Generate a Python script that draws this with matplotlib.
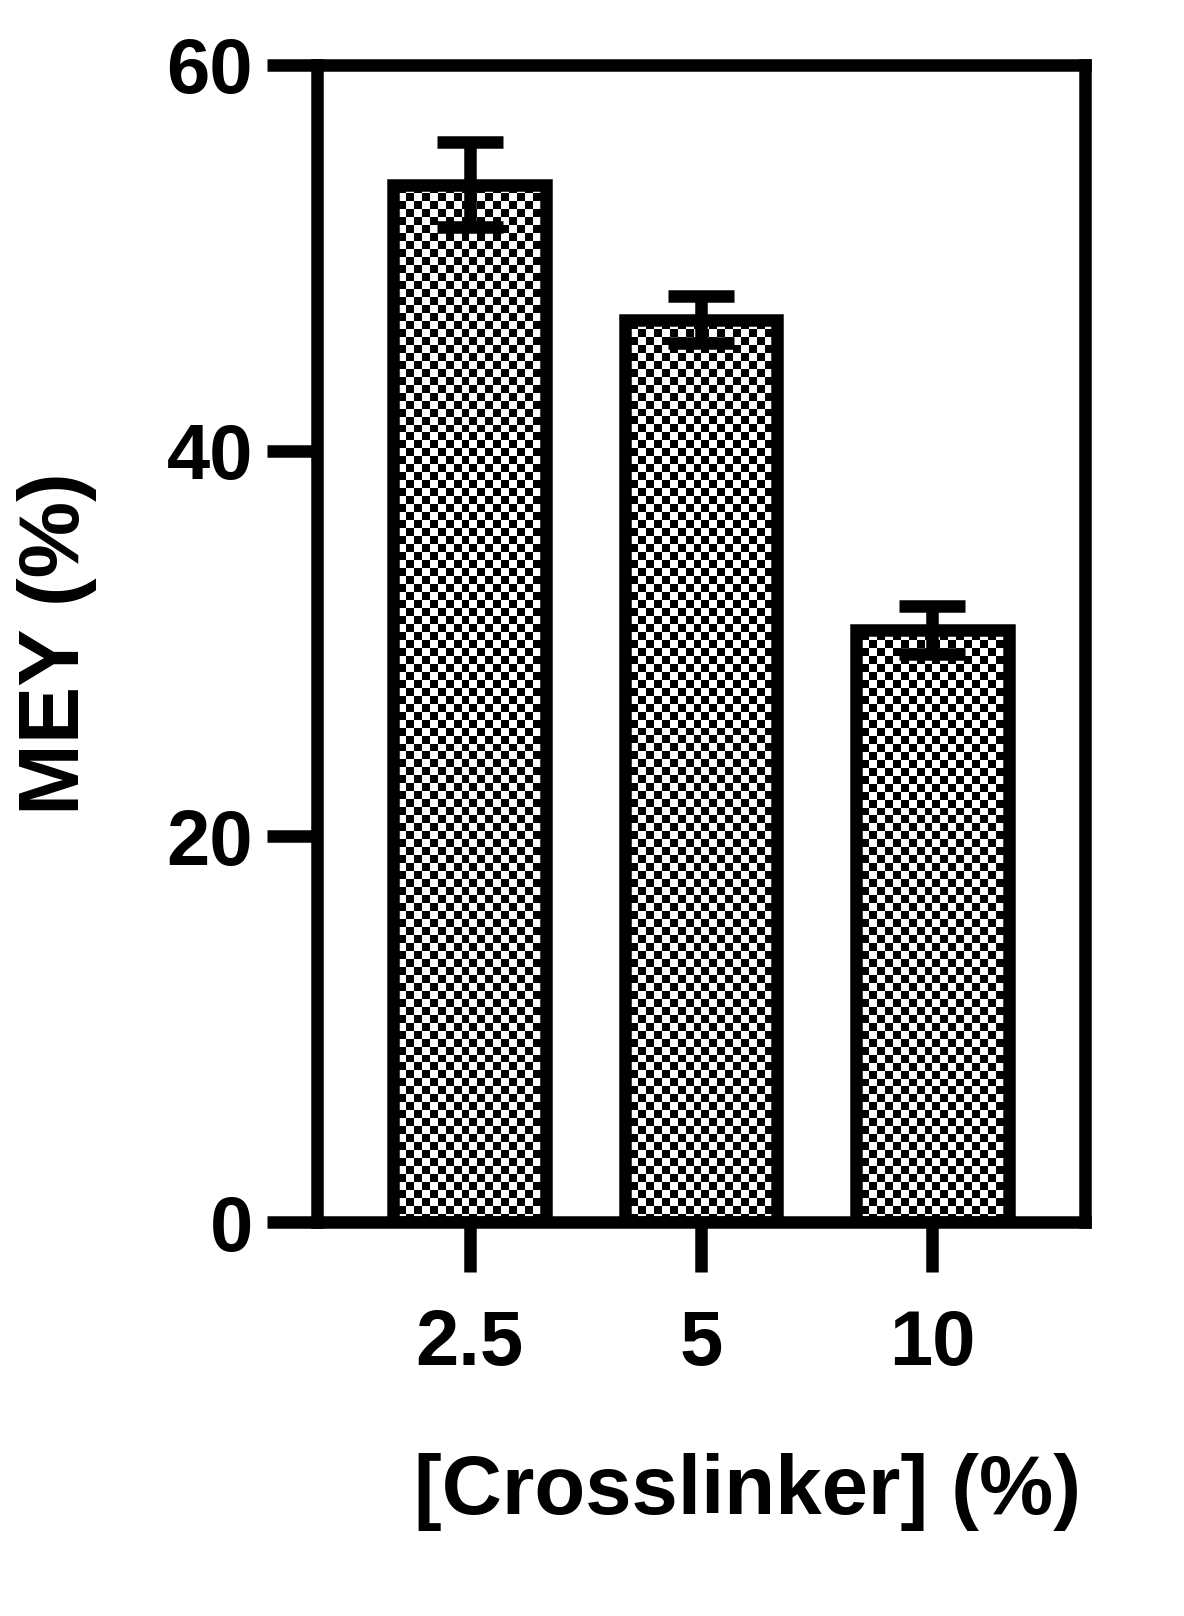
import numpy as np
import matplotlib
matplotlib.use('Agg')
import matplotlib.pyplot as plt

categories = ['2.5', '5', '10']
mey = [53.8, 46.8, 30.7]
err = [2.2, 1.2, 1.25]

plt.rcParams['font.family'] = ['Liberation Sans', 'DejaVu Sans']
plt.rcParams['font.weight'] = 'bold'

fig = plt.figure(figsize=(11.84, 16.16), dpi=100)
ax = fig.add_axes([317/1184, 1-1222/1616, 768/1184, (1222-65)/1616])
lw = 9
x = np.arange(len(categories))
w = 0.66

# checkerboard fill, cells about 8 px
checker = (np.add.outer(np.arange(150), np.arange(116)) % 2).astype(float)
for xi, v in zip(x, mey):
    bar = ax.bar(xi, v, width=w, facecolor='none', edgecolor='black', linewidth=lw, zorder=3)[0]
    im = ax.imshow(checker, cmap='gray', extent=[-1, 3, 0, 62], interpolation='nearest',
                   aspect='auto', zorder=2)
    im.set_clip_path(bar)
ax.errorbar(x, mey, yerr=err, fmt='none', ecolor='black', elinewidth=lw, capsize=24,
            capthick=lw, zorder=4)

ax.set_xlim(-0.66, 2.66)
ax.set_ylim(0, 60)
ax.set_yticks([0, 20, 40, 60])
ax.set_xticks(x)
ax.set_xticklabels(categories)
for s in ax.spines.values():
    s.set_linewidth(lw)
ax.tick_params(axis='both', width=lw, length=36, labelsize=56, pad=10)
ax.tick_params(axis='x', pad=26)
ax.set_ylabel('MEY (%)', fontsize=62, fontweight='bold', labelpad=50)
ax.set_xlabel('[Crosslinker] (%)', fontsize=60, fontweight='bold')
ax.xaxis.set_label_coords(0.56, -0.2)

fig.savefig('out.png', dpi=100)
